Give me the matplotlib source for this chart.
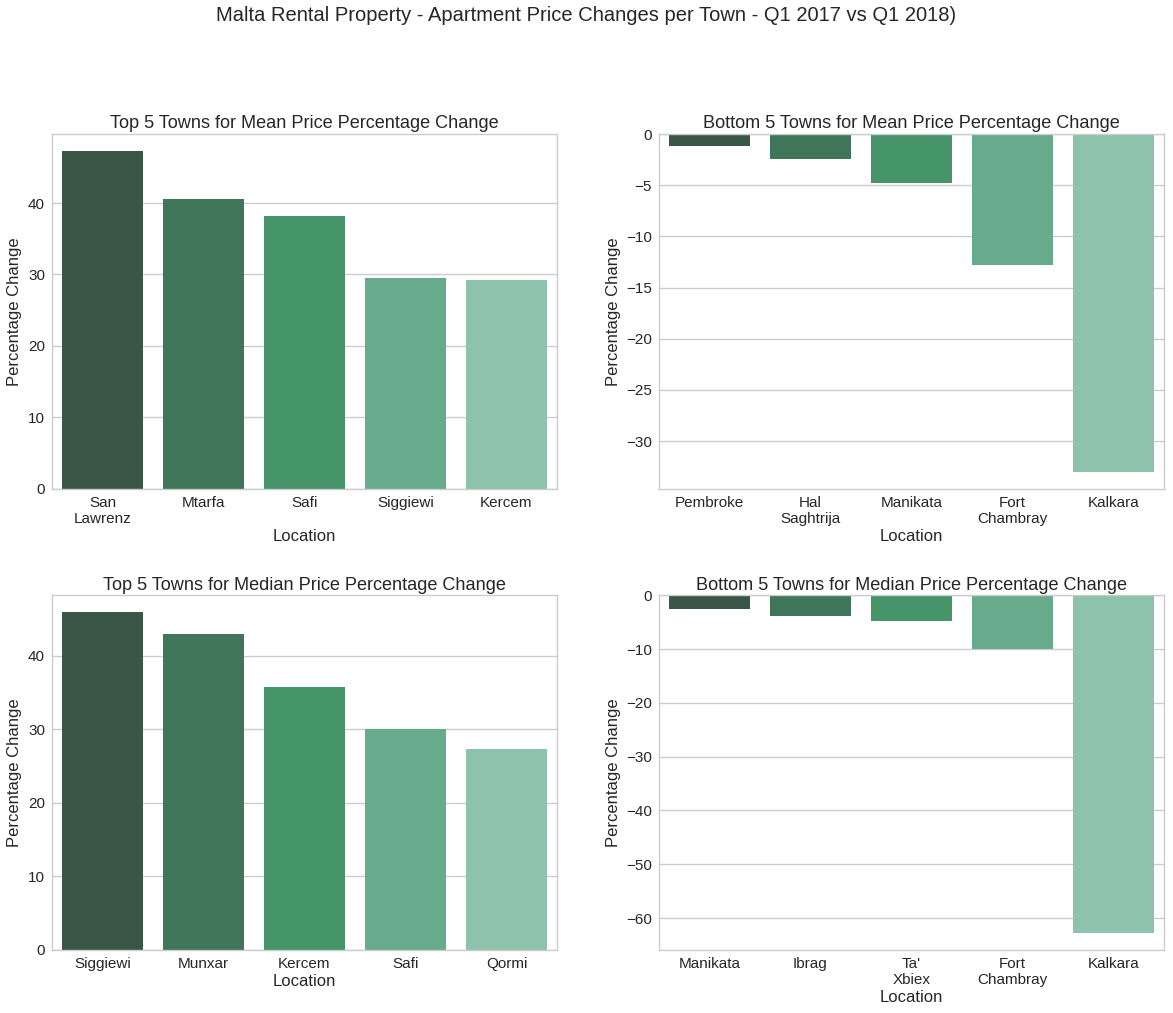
import matplotlib
matplotlib.use("Agg")
import matplotlib.pyplot as plt
import numpy as np

# values
top_mean_towns = ["San Lawrenz", "Mtarfa", "Safi", "Siggiewi", "Kercem"]
top_mean_change = [47.3, 40.6, 38.2, 29.5, 29.2]

bottom_mean_towns = ["Pembroke", "Hal Saghtrija", "Manikata", "Fort Chambray", "Kalkara"]
bottom_mean_change = [-1.2, -2.4, -4.8, -12.8, -33.0]

top_median_towns = ["Siggiewi", "Munxar", "Kercem", "Safi", "Qormi"]
top_median_change = [45.9, 42.9, 35.7, 30.0, 27.3]

bottom_median_towns = ["Manikata", "Ibrag", "Ta' Xbiex", "Fort Chambray", "Kalkara"]
bottom_median_change = [-2.6, -3.9, -4.85, -9.9, -62.8]

palette = ["#3a5647", "#3f7659", "#46956a", "#67ab8c", "#8dc3ac"]

plt.rcParams['font.family'] = ['Liberation Sans', 'DejaVu Sans']
plt.rcParams['text.color'] = '#262626'
plt.rcParams['axes.labelcolor'] = '#262626'
plt.rcParams['xtick.color'] = '#262626'
plt.rcParams['ytick.color'] = '#262626'

fig, axes = plt.subplots(2, 2, figsize=(11.73, 10.13), dpi=100)
fig.subplots_adjust(left=0.0443, right=0.9923, top=0.8677, bottom=0.0622,
                    wspace=0.202, hspace=0.301)

panels = [
    (axes[0, 0], top_mean_towns, top_mean_change, "Top 5 Towns for Mean Price Percentage Change"),
    (axes[0, 1], bottom_mean_towns, bottom_mean_change, "Bottom 5 Towns for Mean Price Percentage Change"),
    (axes[1, 0], top_median_towns, top_median_change, "Top 5 Towns for Median Price Percentage Change"),
    (axes[1, 1], bottom_median_towns, bottom_median_change, "Bottom 5 Towns for Median Price Percentage Change"),
]

for ax, towns, change, title in panels:
    x = np.arange(len(towns))
    ax.bar(x, change, width=0.8, color=palette, zorder=2)
    ax.set_xlim(-0.5, len(towns) - 0.5)
    ax.set_xticks(x)
    ax.set_xticklabels([t.replace(" ", "\n") for t in towns], fontsize=11)
    ax.tick_params(axis="y", labelsize=11)
    ax.tick_params(length=0, pad=5)
    ax.set_xlabel("Location", fontsize=12.0, labelpad=2)
    ax.set_ylabel("Percentage Change", fontsize=12.0)
    ax.set_title(title, fontsize=13.1, pad=4)
    ax.yaxis.grid(True, color="#cccccc", linewidth=1, zorder=0)
    ax.set_axisbelow(True)
    for s in ax.spines.values():
        s.set_color("#cccccc")
        s.set_linewidth(1)

fig.suptitle("Malta Rental Property - Apartment Price Changes per Town - Q1 2017 vs Q1 2018)",
             fontsize=14.5, y=0.994, va="top")

plt.savefig("out.png", dpi=100)
